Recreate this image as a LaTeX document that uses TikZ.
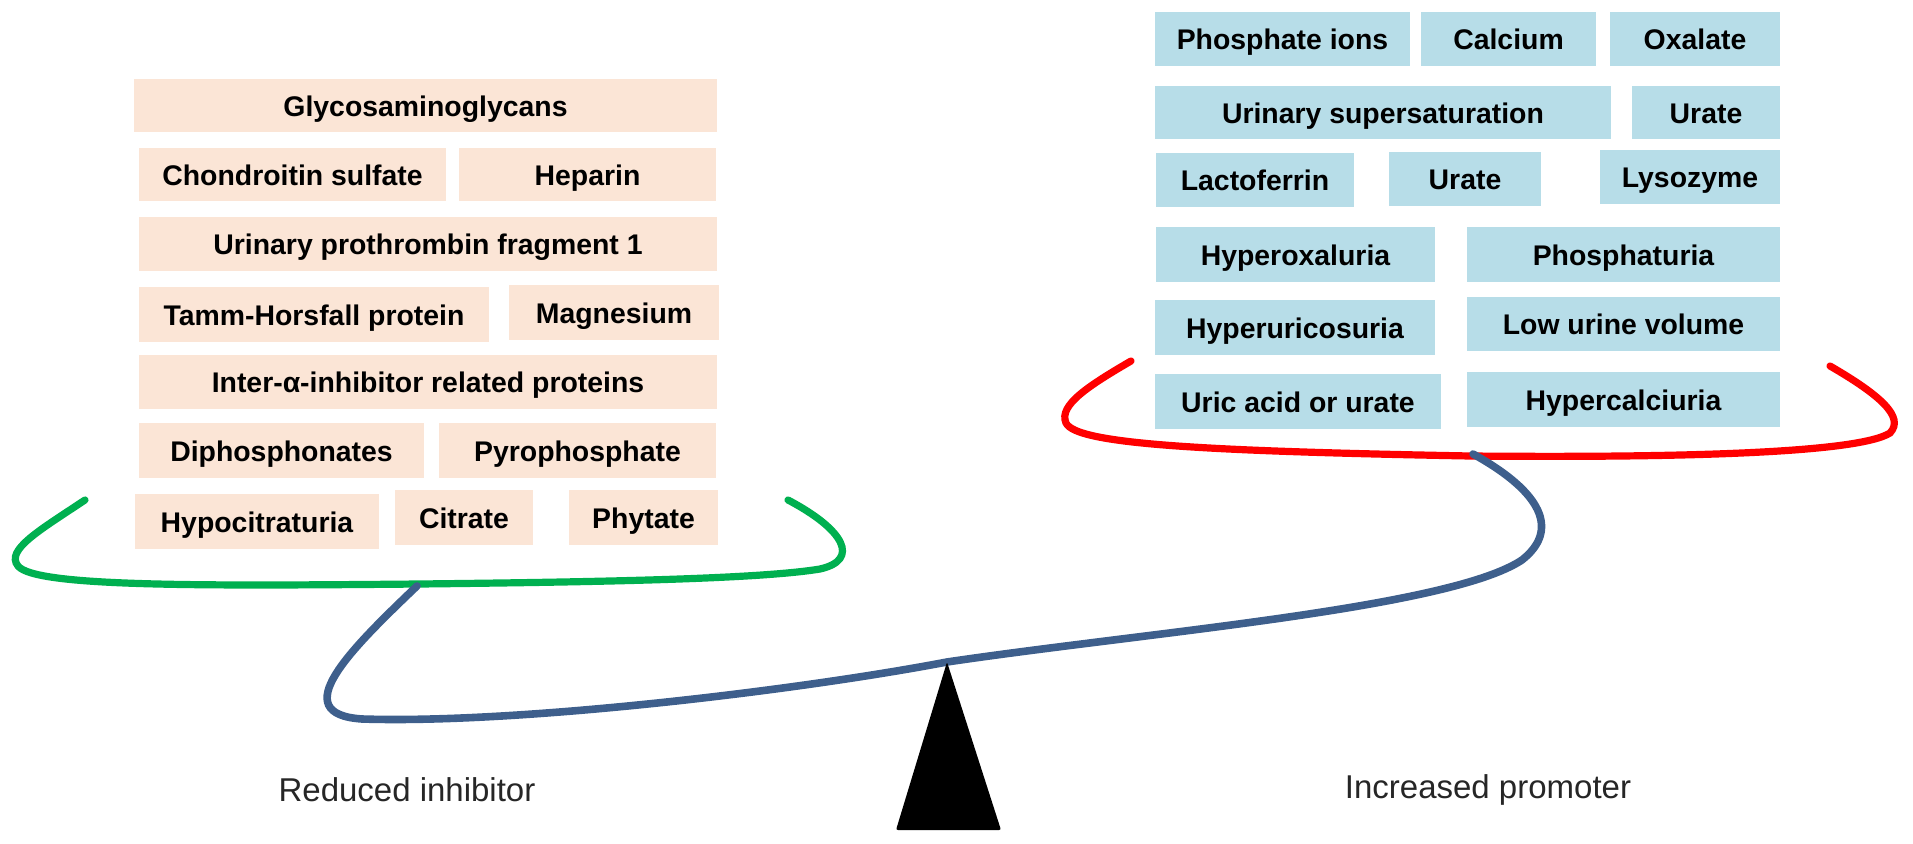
\documentclass[tikz,border=0pt]{standalone}
\usepackage{fontspec}
\setmainfont{Liberation Sans}
\definecolor{peach}{HTML}{FBE5D6}
\definecolor{aqua}{HTML}{B7DDE8}
\definecolor{beamblue}{HTML}{3E5F8C}
\definecolor{okgreen}{HTML}{00B050}
\definecolor{okred}{HTML}{FF0000}
\newcommand{\boxnode}[7]{%
  \pgfmathsetmacro\bcx{(#3+#5)/2}%
  \pgfmathsetmacro\bcy{(#4+#6)/2}%
  \pgfmathsetmacro\bw{(#5-#3)*0.5}%
  \pgfmathsetmacro\bh{(#6-#4)*0.5}%
  \node[#1, minimum width=\bw pt, minimum height=\bh pt] (#2) at (\bcx,\bcy) {#7};}
\begin{document}
\begin{tikzpicture}[x=0.5pt,y=-0.5pt,
  ibox/.style={fill=peach, draw=none, inner sep=0pt, text height=10.6pt, text depth=0pt,
    font=\bfseries\fontsize{14.2pt}{16pt}\selectfont, text=black},
  pbox/.style={ibox, fill=aqua},
  lbl/.style={font=\fontsize{16.5pt}{19pt}\selectfont, text=black!85},
  arcline/.style={line width=3.6pt, line cap=round}]
\useasboundingbox (0,0) rectangle (1913,844);

% inhibitors
\boxnode{ibox}{gly}{134}{79}{717}{132}{Glycosaminoglycans}
\boxnode{ibox}{cho}{139}{148}{446}{201}{Chondroitin sulfate}
\boxnode{ibox}{hep}{459}{148}{716}{201}{Heparin}
\boxnode{ibox}{upf}{139}{217}{717}{271}{Urinary prothrombin fragment 1}
\boxnode{ibox}{thp}{139}{287}{489}{342}{Tamm-Horsfall protein}
\boxnode{ibox}{mag}{509}{285}{719}{340}{Magnesium}
\boxnode{ibox}{iai}{139}{355}{717}{409}{Inter-α-inhibitor related proteins}
\boxnode{ibox}{dip}{139}{423}{424}{478}{Diphosphonates}
\boxnode{ibox}{pyr}{439}{423}{716}{478}{Pyrophosphate}
\boxnode{ibox}{hyc}{135}{494}{379}{549}{Hypocitraturia}
\boxnode{ibox}{cit}{395}{490}{533}{545}{Citrate}
\boxnode{ibox}{phy}{569}{490}{718}{545}{Phytate}

% promoters
\boxnode{pbox}{phi}{1155}{12}{1410}{66}{Phosphate ions}
\boxnode{pbox}{cal}{1421}{12}{1596}{66}{Calcium}
\boxnode{pbox}{oxa}{1610}{12}{1780}{66}{Oxalate}
\boxnode{pbox}{uss}{1155}{86}{1611}{139}{Urinary supersaturation}
\boxnode{pbox}{ura}{1632}{86}{1780}{139}{Urate}
\boxnode{pbox}{lac}{1156}{153}{1354}{207}{Lactoferrin}
\boxnode{pbox}{urb}{1389}{152}{1541}{206}{Urate}
\boxnode{pbox}{lys}{1600}{150}{1780}{204}{Lysozyme}
\boxnode{pbox}{hox}{1156}{227}{1435}{282}{Hyperoxaluria}
\boxnode{pbox}{pho}{1467}{227}{1780}{282}{Phosphaturia}
\boxnode{pbox}{hur}{1155}{300}{1435}{355}{Hyperuricosuria}
\boxnode{pbox}{luv}{1467}{297}{1780}{351}{Low urine volume}
\boxnode{pbox}{uau}{1155}{374}{1441}{429}{Uric acid or urate}
\boxnode{pbox}{hca}{1467}{372}{1780}{427}{Hypercalciuria}

% pans
\draw[arcline, okgreen] (85,500) .. controls (40,530) and (5,550) .. (18,566)
  .. controls (35,587) and (200,586) .. (420,584)
  .. controls (600,582) and (760,579) .. (820,569)
  .. controls (860,560) and (845,530) .. (788,500);
\draw[arcline, okred] (1131,361) .. controls (1090,385) and (1058,405) .. (1066,423)
  .. controls (1076,444) and (1200,451) .. (1470,456)
  .. controls (1700,458) and (1860,452) .. (1890,433)
  .. controls (1905,417) and (1880,395) .. (1830,366);

% beam
\draw[line width=3.8pt, beamblue, line cap=round] (417,586) .. controls (350,650) and (285,714) .. (362,719)
  .. controls (520,724) and (800,690) .. (947,662)
  .. controls (1150,632) and (1450,608) .. (1522,560)
  .. controls (1560,530) and (1542,492) .. (1473,454);

% fulcrum
\fill[black, rounded corners=1pt] (947,662) -- (1001,830) -- (896,830) -- cycle;

\node[lbl] (red) at (407,790) {Reduced inhibitor};
\node[lbl] (inc) at (1488,790) {Increased promoter};
\end{tikzpicture}
\end{document}
